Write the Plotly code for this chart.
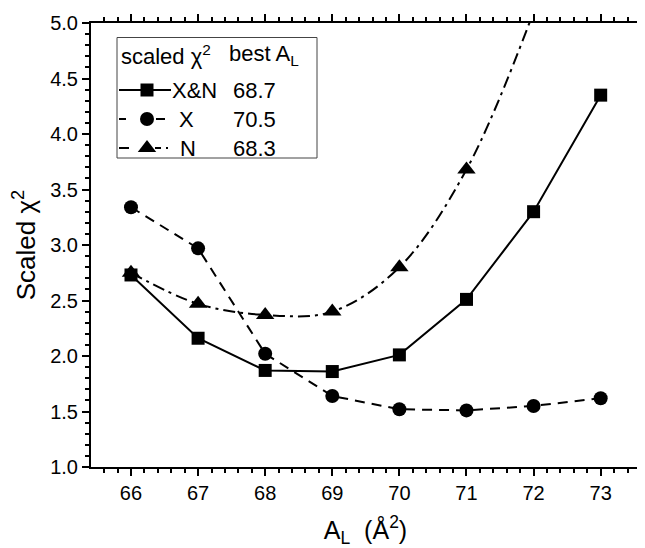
import plotly.graph_objects as go

# ---- data ----
area = [66, 67, 68, 69, 70, 71, 72, 73]
chi_xn = [2.73, 2.16, 1.87, 1.86, 2.01, 2.51, 3.30, 4.35]
chi_x = [3.34, 2.97, 2.02, 1.64, 1.52, 1.51, 1.55, 1.62]
area_n = [66, 67, 68, 69, 70, 71, 72]
chi_n = [2.75, 2.47, 2.37, 2.40, 2.80, 3.68, 5.10]
legend_names = ["X&N", "X", "N"]
best_al = ["68.7", "70.5", "68.3"]

OFF = 8  # page body margin
W, H = 637, 540
ML, MR, MT, MB = 83, 5, 15, 81
PW, PH = W - ML - MR, H - MT - MB
FONT = "Arial, Liberation Sans, sans-serif"


def px(x):
    return (x - OFF - ML) / PW


def py(y):
    return (H - MB - (y - OFF)) / PH


fig = go.Figure()
lw = 2
fig.add_trace(go.Scatter(x=area, y=chi_xn, mode="lines+markers",
                         line=dict(color="black", width=lw),
                         marker=dict(symbol="square", size=13, color="black"),
                         showlegend=False))
fig.add_trace(go.Scatter(x=area, y=chi_x, mode="lines+markers",
                         line=dict(color="black", width=lw, dash="10px,7px"),
                         marker=dict(symbol="circle", size=14, color="black"),
                         showlegend=False))
fig.add_trace(go.Scatter(x=area_n, y=chi_n, mode="lines+markers",
                         line=dict(color="black", width=lw, shape="spline", dash="12px,5px,3px,5px"),
                         marker=dict(symbol="triangle-up", size=16, color="black"),
                         showlegend=False))

# ---- manual legend ----
shapes = []
annotations = []
bx0, bx1, by0, by1 = 117, 317, 37.5, 158
shapes.append(dict(type="rect", xref="paper", yref="paper",
                   x0=px(bx0), x1=px(bx1), y0=py(by1), y1=py(by0),
                   line=dict(color="#444", width=1), fillcolor="white", layer="below"))
LF = dict(size=22, family=FONT, color="black")
annotations.append(dict(xref="paper", yref="paper", x=px(119), y=py(55),
                        xanchor="left", yanchor="middle", showarrow=False,
                        text="scaled χ<sup>2</sup>", font=LF))
annotations.append(dict(xref="paper", yref="paper", x=px(227), y=py(55),
                        xanchor="left", yanchor="middle", showarrow=False,
                        text="best A<sub>L</sub>", font=LF))
row_y = [90, 119, 148]
label_x = [170, 177, 178]
segs = [
    [(119, 171)],
    [(119, 126), (156, 165)],
    [(119, 129), (155, 161), (166, 168)],
]
symbols = ["square", "circle", "triangle-up"]
sizes = [13, 14, 16]
for i in range(3):
    yy = py(row_y[i])
    for a, b in segs[i]:
        shapes.append(dict(type="line", xref="paper", yref="paper",
                           x0=px(a), x1=px(b), y0=yy, y1=yy,
                           line=dict(color="black", width=2)))
    annotations.append(dict(xref="paper", yref="paper", x=px(label_x[i]), y=yy,
                            xanchor="left", yanchor="middle", showarrow=False,
                            text=legend_names[i], font=LF))
    annotations.append(dict(xref="paper", yref="paper", x=px(231), y=yy,
                            xanchor="left", yanchor="middle", showarrow=False,
                            text=best_al[i], font=LF))
    fig.add_trace(go.Scatter(x=[px(147)], y=[yy], xaxis="x2", yaxis="y2", mode="markers",
                             marker=dict(symbol=symbols[i], size=sizes[i], color="black"),
                             showlegend=False, cliponaxis=False, hoverinfo="skip"))

axis_common = dict(showline=True, linecolor="black", linewidth=2, mirror="ticks",
                   ticks="outside", ticklen=7, tickwidth=1.5, tickcolor="black",
                   showgrid=False, zeroline=False,
                   tickfont=dict(size=20, family=FONT, color="black"))

fig.update_layout(
    width=W, height=H,
    margin=dict(l=ML, r=MR, t=MT, b=MB, autoexpand=False),
    paper_bgcolor="white", plot_bgcolor="white",
    shapes=shapes, annotations=annotations,
    xaxis=dict(range=[65.404, 73.586], dtick=1, tick0=66,
               minor=dict(dtick=0.2, tick0=66, ticks="outside", ticklen=4, tickwidth=1.5, tickcolor="black"),
               title=dict(text="A<sub>L</sub>  (Å<sup>2</sup>)", font=dict(size=25, family=FONT, color="black"), standoff=26),
               **axis_common),
    yaxis=dict(range=[1, 5], dtick=0.5, tick0=1, tickformat=".1f",
               minor=dict(dtick=0.1, tick0=1, ticks="outside", ticklen=4, tickwidth=1.5, tickcolor="black"),
               title=dict(text="Scaled χ<sup>2</sup>", font=dict(size=26, family=FONT, color="black"), standoff=11),
               **axis_common),
    xaxis2=dict(overlaying="x", anchor="y2", range=[0, 1], visible=False),
    yaxis2=dict(overlaying="y", anchor="x2", range=[0, 1], visible=False),
)

fig.write_html("out.html")
